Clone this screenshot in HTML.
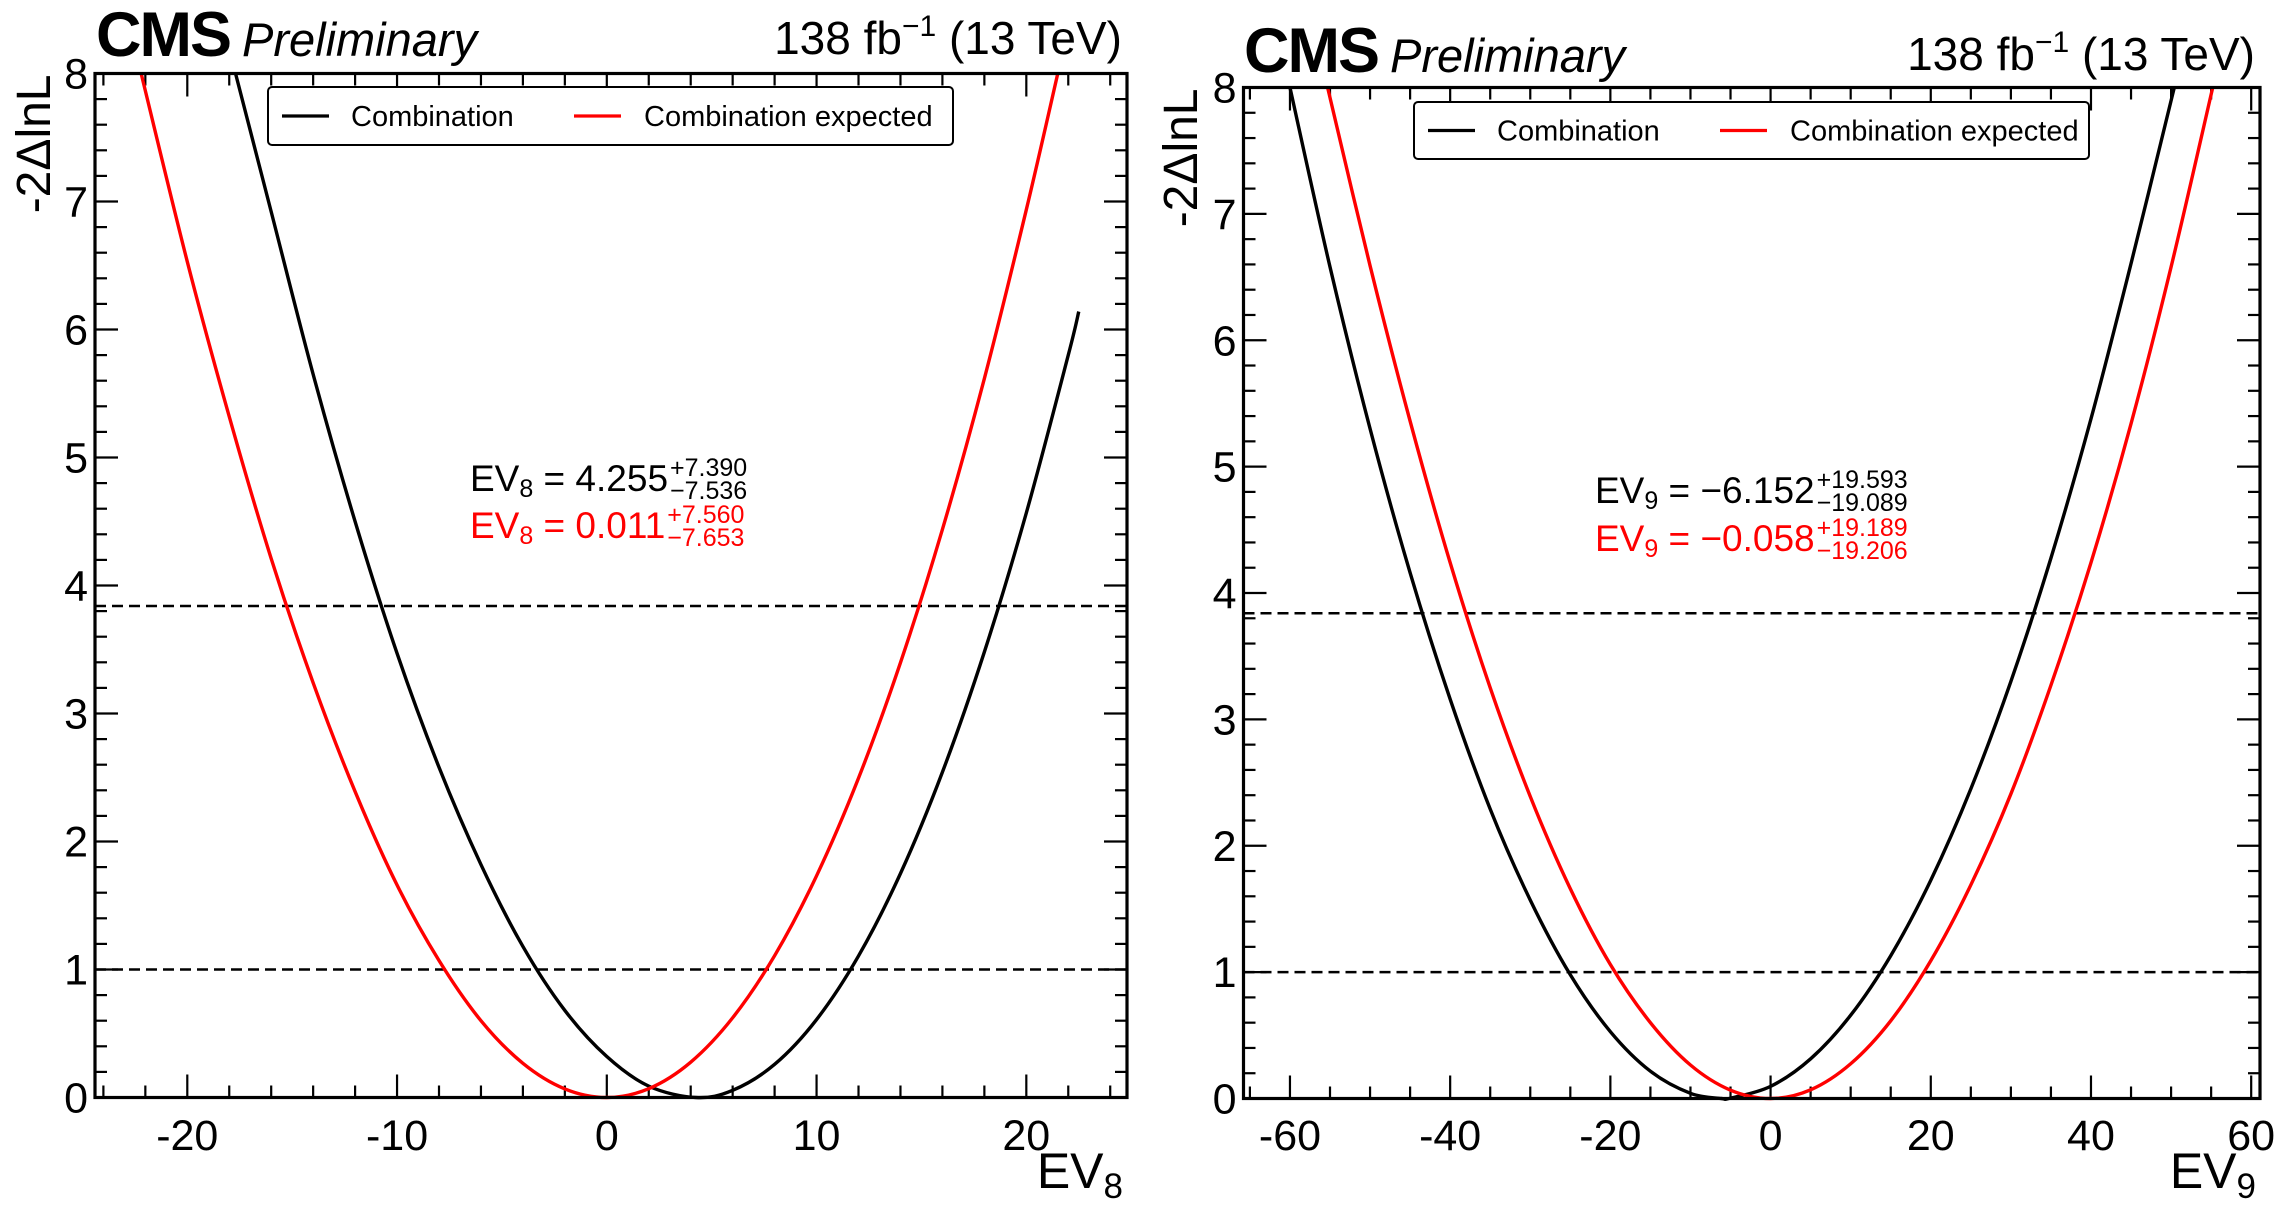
<!DOCTYPE html>
<html><head><meta charset="utf-8"><style>
html,body{margin:0;padding:0;background:#fff;}
svg{display:block;font-family:"Liberation Sans",Arial,sans-serif;}
</style></head><body>
<svg id="fig" width="2283" height="1207" viewBox="0 0 2283 1207"></svg>
<script>
// ---- Left panel data (EV8) ----
const ev8ObsX = [-17.7,-16,-14,-12,-10,-8,-6,-4,-2,0,2,4.25,6,8,10,12,14,16,18,20,22,22.5];
const ev8ObsY = [8,6.92,5.65,4.50,3.47,2.58,1.82,1.18,0.68,0.32,0.089,0,0.056,0.259,0.609,1.106,1.750,2.542,3.481,4.567,5.800,6.14];
const ev8ExpX = [-22.2,-20,-18,-16,-14,-12,-10,-8,-6,-4,-2,0,2,4,6,8,10,12,14,16,18,20,21.5];
const ev8ExpY = [8,6.53,5.32,4.21,3.24,2.39,1.66,1.07,0.60,0.267,0.067,0,0.069,0.276,0.623,1.108,1.732,2.495,3.397,4.438,5.617,6.936,8];
const ev8XTicks = [-20,-10,0,10,20];
// ---- Right panel data (EV9) ----
const ev9ObsX = [-60,-55,-50,-45,-40,-35,-30,-25,-20,-15,-10,-6.15,-5,0,5,10,15,20,25,30,35,40,45,50.4];
const ev9ObsY = [8,6.58,5.30,4.16,3.16,2.29,1.57,0.979,0.529,0.216,0.041,0,0.003,0.096,0.314,0.659,1.130,1.727,2.450,3.300,4.276,5.378,6.607,8];
const ev9ExpX = [-55.3,-50,-45,-40,-35,-30,-25,-20,-15,-10,-5,0,5,10,15,20,25,30,35,40,45,50,55.2];
const ev9ExpY = [8,6.59,5.36,4.24,3.25,2.39,1.66,1.06,0.60,0.265,0.066,0,0.069,0.275,0.615,1.09,1.69,2.41,3.27,4.24,5.34,6.58,8];
const ev9XTicks = [-60,-40,-20,0,20,40,60];
const yTicks = [0,1,2,3,4,5,6,7,8];
const refLevels = [1,3.84];

const NS="http://www.w3.org/2000/svg";
const svg=document.getElementById('fig');
function mk(tag,attrs,parent){const e=document.createElementNS(NS,tag);for(const k in attrs)e.setAttribute(k,attrs[k]);(parent||svg).appendChild(e);return e;}
function txt(s,attrs,parent){const e=mk('text',attrs,parent);e.textContent=s;return e;}

function smoothPath(pts){
  let d='M'+pts[0][0].toFixed(2)+','+pts[0][1].toFixed(2);
  for(let i=0;i<pts.length-1;i++){
    const p0=pts[Math.max(0,i-1)],p1=pts[i],p2=pts[i+1],p3=pts[Math.min(pts.length-1,i+2)];
    const c1=[p1[0]+(p2[0]-p0[0])/6,p1[1]+(p2[1]-p0[1])/6];
    const c2=[p2[0]-(p3[0]-p1[0])/6,p2[1]-(p3[1]-p1[1])/6];
    d+='C'+c1[0].toFixed(2)+','+c1[1].toFixed(2)+' '+c2[0].toFixed(2)+','+c2[1].toFixed(2)+' '+p2[0].toFixed(2)+','+p2[1].toFixed(2);
  }
  return d;
}

function panel(cfg){
  const g=mk('g',{});
  
  
  const {L,R,T,B,xmin,xmax}=cfg;
  const sx=v=>L+(v-xmin)/(xmax-xmin)*(R-L);
  const sy=v=>B-v/8*(B-T);
  const tg=mk('g',{stroke:'#000','stroke-width':2.2},g);
  
  
  for(let v=Math.ceil(xmin/cfg.xminor)*cfg.xminor;v<=xmax+1e-9;v+=cfg.xminor){
    const major=Math.abs(v/cfg.xmajor-Math.round(v/cfg.xmajor))<1e-6;
    const len=major?23:12,x=sx(v);
    mk('line',{x1:x,x2:x,y1:B,y2:B-len},tg);
    mk('line',{x1:x,x2:x,y1:T,y2:T+len},tg);
  }
  for(let k=0;k<=40;k++){
    const v=k*0.2,major=k%5===0,len=major?23:12,y=sy(v);
    mk('line',{x1:L,x2:L+len,y1:y,y2:y},tg);
    mk('line',{x1:R,x2:R-len,y1:y,y2:y},tg);
  }
  yTicks.forEach(v=>{
    const t=txt(String(v),{x:L-7,y:sy(v)+15,'font-size':43,'text-anchor':'end'},g);
    
    
  });
  cfg.xticks.forEach(v=>{
    const t=txt(v<0?'-'+Math.abs(v):String(v),{x:sx(v),y:1150,'font-size':43,'text-anchor':'middle'},g);
    
    
  });
  refLevels.forEach(v=>{
    const l=mk('line',{x1:L,x2:R,y1:sy(v),y2:sy(v),stroke:'#000','stroke-width':2.5,'stroke-dasharray':'11,6'},g);
    
    
  });
  const series=[[cfg.obsX,cfg.obsY,'#000','observed-curve'],[cfg.expX,cfg.expY,'#ff0000','expected-curve']];
  series.forEach(s=>{
    const pts=s[0].map((x,i)=>[sx(x),sy(s[1][i])]);
    const p=mk('path',{d:smoothPath(pts),fill:'none',stroke:s[2],'stroke-width':3.4},g);
    
    
  });
  const f=mk('rect',{x:L,y:T,width:R-L,height:B-T,fill:'none',stroke:'#000','stroke-width':3.2},g);
  
  
  const lg=mk('g',{},g);
  
  
  const lb=cfg.leg;
  mk('rect',{x:lb.x,y:lb.y,width:lb.w,height:lb.h,rx:4,fill:'#fff',stroke:'#000','stroke-width':2},lg);
  const ly=lb.y+lb.h/2;
  mk('line',{x1:lb.x+14,x2:lb.x+61,y1:ly,y2:ly,stroke:'#000','stroke-width':3.2},lg);
  const e1=txt('Combination',{x:lb.x+83,y:ly+10,'font-size':29},lg);
  
  
  mk('line',{x1:lb.x+306,x2:lb.x+353,y1:ly,y2:ly,stroke:'#ff0000','stroke-width':3.2},lg);
  const e2=txt('Combination expected',{x:lb.x+376,y:ly+10,'font-size':29},lg);
  
  
  const c=txt('CMS',{x:cfg.cmsX,y:cfg.hdrY,'font-size':63,'font-weight':'bold','letter-spacing':-2},g);
  
  
  const pr=txt('Preliminary',{x:cfg.cmsX+146,y:cfg.hdrY,'font-size':47,'font-style':'italic'},g);
  
  
  const lu=txt('',{x:R-5,y:cfg.hdrY-2,'font-size':46,'text-anchor':'end'},g);
  
  
  const a=mk('tspan',{},lu);a.textContent='138 fb';
  const b=mk('tspan',{dy:-18,'font-size':30},lu);b.textContent='\u22121';
  const c2=mk('tspan',{dy:18},lu);c2.textContent=' (13 TeV)';
  const yt=txt('-2\u0394lnL',{x:0,y:0,'font-size':48,'text-anchor':'end',transform:'translate('+cfg.ytX+','+(T+1)+') rotate(-90)'},g);
  
  
  const xt=txt('',{x:R-4,y:1188,'font-size':50,'text-anchor':'end'},g);
  
  
  const x1=mk('tspan',{},xt);x1.textContent='EV';
  const x2=mk('tspan',{dy:10,'font-size':35},xt);x2.textContent=cfg.idx;
  cfg.ann.forEach((an,i)=>{
    const col=i===0?'#000':'#ff0000';
    const ag=mk('g',{fill:col},g);
    
    
    const t=txt('',{x:cfg.annX,y:an.y,'font-size':37},ag);
    const t1=mk('tspan',{},t);t1.textContent='EV';
    const t2=mk('tspan',{dy:6,'font-size':25},t);t2.textContent=cfg.idx;
    const t3=mk('tspan',{dy:-6},t);t3.textContent=' = '+an.v;
    const w=t.getComputedTextLength();
    txt(an.up,{x:cfg.annX+w+2,y:an.y-15,'font-size':25},ag);
    txt(an.dn,{x:cfg.annX+w+2,y:an.y+8,'font-size':25},ag);
  });
}

panel({name:'ev8-panel',L:95,R:1127,T:73.5,B:1097.5,xmin:-24.4,xmax:24.8,xminor:2,xmajor:10,xticks:ev8XTicks,
  obsX:ev8ObsX,obsY:ev8ObsY,expX:ev8ExpX,expY:ev8ExpY,idx:'8',
  leg:{x:268,y:87,w:685,h:58},cmsX:96,hdrY:56,ytX:50,annX:470,
  ann:[{y:491,v:'4.255',up:'+7.390',dn:'\u22127.536'},{y:538,v:'0.011',up:'+7.560',dn:'\u22127.653'}]});
panel({name:'ev9-panel',L:1243.5,R:2260,T:87.5,B:1098.5,xmin:-65.8,xmax:61.1,xminor:5,xmajor:20,xticks:ev9XTicks,
  obsX:ev9ObsX,obsY:ev9ObsY,expX:ev9ExpX,expY:ev9ExpY,idx:'9',
  leg:{x:1414,y:102,w:675,h:57},cmsX:1244,hdrY:72,ytX:1197,annX:1595,
  ann:[{y:503,v:'\u22126.152',up:'+19.593',dn:'\u221219.089'},{y:551,v:'\u22120.058',up:'+19.189',dn:'\u221219.206'}]});
</script>
</body></html>
